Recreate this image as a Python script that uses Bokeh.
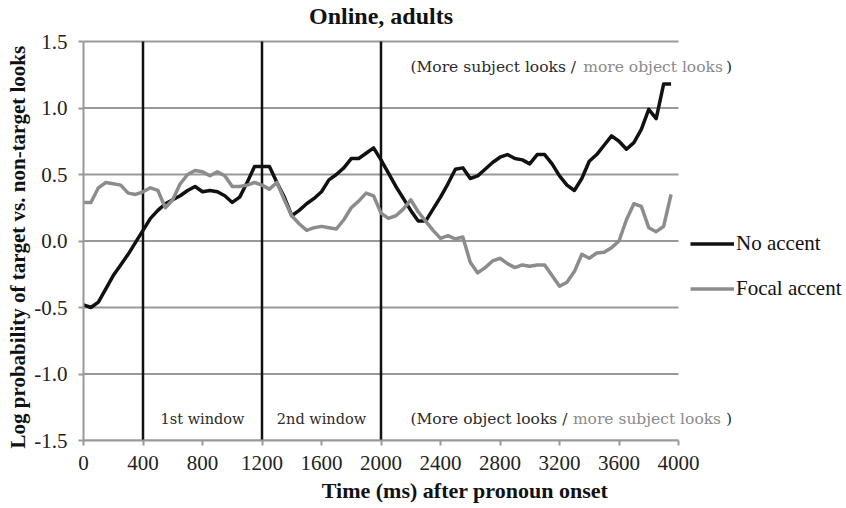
from bokeh.plotting import figure
from bokeh.models import (Range1d, FixedTicker, NumeralTickFormatter,
                          Label, Legend, LegendItem, Title)
from bokeh.embed import file_html
from bokeh.resources import INLINE

# Time bins (ms after pronoun onset)
time_ms = list(range(0, 4000, 50))

# Log probability of target vs. non-target looks
no_accent = [
    -0.48, -0.50, -0.46, -0.36, -0.26, -0.18, -0.10, -0.01, 0.08, 0.17,
    0.23, 0.28, 0.31, 0.34, 0.38, 0.41, 0.37, 0.38, 0.37, 0.34,
    0.29, 0.33, 0.44, 0.56, 0.56, 0.56, 0.44, 0.33, 0.19, 0.23,
    0.28, 0.32, 0.37, 0.46, 0.50, 0.55, 0.62, 0.62, 0.66, 0.70,
    0.61, 0.51, 0.41, 0.32, 0.23, 0.15, 0.15, 0.24, 0.33, 0.43,
    0.54, 0.55, 0.47, 0.49, 0.54, 0.59, 0.63, 0.65, 0.62, 0.61,
    0.58, 0.65, 0.65, 0.58, 0.49, 0.42, 0.38, 0.47, 0.60, 0.65,
    0.72, 0.79, 0.75, 0.69, 0.74, 0.84, 0.99, 0.92, 1.18, 1.18,
]
focal_accent = [
    0.29, 0.29, 0.40, 0.44, 0.43, 0.42, 0.36, 0.35, 0.37, 0.40,
    0.38, 0.25, 0.31, 0.43, 0.50, 0.53, 0.52, 0.49, 0.52, 0.49,
    0.41, 0.41, 0.42, 0.44, 0.42, 0.39, 0.44, 0.31, 0.19, 0.13,
    0.08, 0.10, 0.11, 0.10, 0.09, 0.16, 0.25, 0.30, 0.36, 0.34,
    0.21, 0.17, 0.19, 0.24, 0.31, 0.22, 0.15, 0.08, 0.02, 0.04,
    0.015, 0.03, -0.16, -0.24, -0.20, -0.15, -0.13, -0.17, -0.20, -0.18,
    -0.19, -0.18, -0.18, -0.26, -0.34, -0.31, -0.23, -0.10, -0.13, -0.09,
    -0.085, -0.05, 0.00, 0.16, 0.28, 0.26, 0.10, 0.07, 0.11, 0.35,
]

# Analysis window boundaries (ms)
window_bounds = [400, 1200, 2000]
window_names = ["1st window", "2nd window"]

x_ticks = list(range(0, 4001, 400))
y_ticks = [-1.5, -1.0, -0.5, 0.0, 0.5, 1.0, 1.5]

SERIF = "Liberation Serif"
NOTE_FONT = "DejaVu Serif"
DARK = "#2b2b2b"
GRAY = "#8a8a8a"
GRID = "#999999"

# The frame fills the canvas to the right and top edges so the title, notes
# and legend can sit beside the data area. The time axis spans 595 px and the
# value axis 399 px, starting 41 px below the top.
LEFT, AXIS_RIGHT, WIDTH = 83, 678, 846
HEIGHT, BOTTOM_BORDER, AXIS_TOP = 508, 68, 41
x_end = x_ticks[-1] * (WIDTH - LEFT) / (AXIS_RIGHT - LEFT)
y_span = y_ticks[-1] - y_ticks[0]
axis_px = HEIGHT - BOTTOM_BORDER - AXIS_TOP
y_end = y_ticks[-1] + AXIS_TOP * y_span / axis_px
px_y = y_span / axis_px  # value units per pixel

p = figure(width=WIDTH, height=HEIGHT, output_backend="svg",
           toolbar_location=None,
           x_range=Range1d(0, x_end), y_range=Range1d(y_ticks[0], y_end),
           min_border_left=LEFT, min_border_right=0,
           min_border_top=0, min_border_bottom=BOTTOM_BORDER)
p.outline_line_color = None
p.background_fill_color = "white"

# Title, centred over the time axis
p.add_layout(Label(x=(x_ticks[0] + x_ticks[-1]) / 2,
                   y=y_ticks[-1] + 26 * px_y, text="Online, adults",
                   text_align="center", text_baseline="middle",
                   text_font=SERIF, text_font_style="bold",
                   text_font_size="24px", text_color="#111111"))

# Axes
p.xaxis.ticker = FixedTicker(ticks=x_ticks)
p.xaxis.bounds = (x_ticks[0], x_ticks[-1])
p.yaxis.ticker = FixedTicker(ticks=y_ticks)
p.yaxis.bounds = (y_ticks[0], y_ticks[-1])
p.yaxis.formatter = NumeralTickFormatter(format="0.0")
for ax in (p.xaxis, p.yaxis):
    ax.axis_line_color = GRID
    ax.axis_line_width = 2
    ax.major_tick_line_color = GRID
    ax.major_tick_line_width = 2
    ax.major_tick_out = 5
    ax.major_tick_in = 0
    ax.minor_tick_line_color = None
    ax.major_label_text_font = SERIF
    ax.major_label_text_font_size = "21px"
    ax.major_label_text_color = "#222222"
    ax.axis_label_text_font = SERIF
    ax.axis_label_text_font_style = "bold"
    ax.axis_label_text_color = "#111111"
p.xaxis.axis_label = "Time (ms) after pronoun onset"
p.xaxis.axis_label_text_font_size = "22px"
p.xaxis.major_label_standoff = 10
p.xaxis.axis_label_standoff = 5
p.yaxis.major_label_standoff = 11

# Value-axis title, set along the bounded axis rather than the whole frame
p.add_layout(Title(text="Log probability of target vs. non-target looks",
                   align="left", offset=-8, standoff=3,
                   text_font=SERIF, text_font_style="bold",
                   text_font_size="21px", text_color="#111111"), "left")

# Horizontal gridlines across the time axis only
p.xgrid.grid_line_color = None
p.ygrid.grid_line_color = None
p.segment(x0=[x_ticks[0]] * len(y_ticks), y0=y_ticks,
          x1=[x_ticks[-1]] * len(y_ticks), y1=y_ticks,
          line_color=GRID, line_width=2)

# Window boundaries, running the full value axis
p.segment(x0=window_bounds, y0=[y_ticks[0]] * len(window_bounds),
          x1=window_bounds, y1=[y_ticks[-1]] * len(window_bounds),
          line_color="#111111", line_width=2.5)

# Series
r_no = p.line(time_ms, no_accent, line_color="#111111", line_width=3.5,
              line_join="round")
r_focal = p.line(time_ms, focal_accent, line_color="#8c8c8c", line_width=3.5,
                 line_join="round")

# Window names, centred between boundaries
for name, a, b in zip(window_names, window_bounds[:-1], window_bounds[1:]):
    p.add_layout(Label(x=(a + b) / 2, y=-1.34, text=name, text_align="center",
                       text_baseline="middle", text_font=NOTE_FONT,
                       text_font_size="14.5px", text_color=DARK))

# Direction notes (two-tone)
def note(parts, y):
    for text, x, color in parts:
        p.add_layout(Label(x=x, y=y, text=text, text_align="left",
                           text_baseline="middle", text_font=NOTE_FONT,
                           text_font_size="15.5px", text_color=color))

note([("(More subject looks /", 2198, DARK),
      ("more object looks", 3360, GRAY),
      (")", 4320, DARK)], 1.31)
note([("(More object looks /", 2198, DARK),
      ("more subject looks", 3290, GRAY),
      (")", 4320, DARK)], -1.34)

# Legend beside the data area
legend = Legend(items=[LegendItem(label="No accent", renderers=[r_no]),
                       LegendItem(label="Focal accent", renderers=[r_focal])],
                location=(607, 139), orientation="vertical")
legend.border_line_color = None
legend.background_fill_alpha = 0
legend.padding = 0
legend.margin = 0
legend.spacing = 20
legend.glyph_width = 44
legend.glyph_height = 25
legend.label_height = 25
legend.label_standoff = 2
legend.label_text_font = SERIF
legend.label_text_font_size = "21px"
legend.label_text_color = "#111111"
p.add_layout(legend, "center")

open("out.html", "w").write(file_html(p, INLINE))
